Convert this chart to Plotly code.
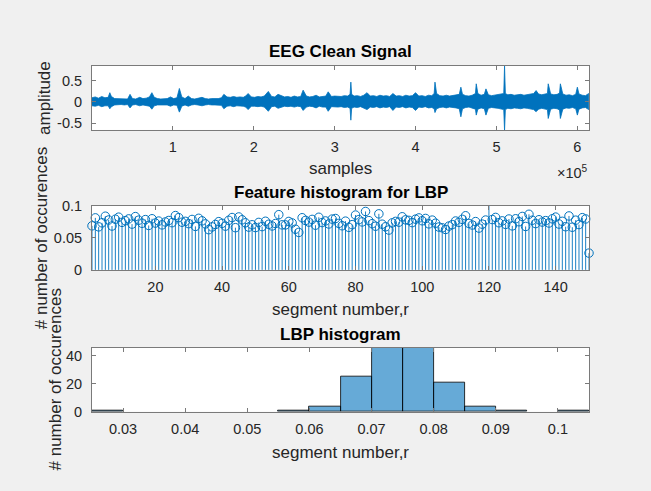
import numpy as np
import plotly.graph_objects as go

# ---------------- data ----------------
# EEG clean signal envelope (positions in thousands of samples, upper / lower extent)
eeg_k = [0, 4, 8, 12, 16, 20, 22, 24, 28, 32, 36, 40, 44, 47, 50, 54, 59, 63, 67, 71, 74, 77, 81, 85, 89, 93, 97,
         101, 105, 108, 111, 115, 119, 123, 127, 131, 136, 140, 144, 148, 152, 156, 160,
         163, 167, 171, 175, 179, 183, 187, 190, 193, 197, 201, 205, 209, 213, 218, 222, 226, 230, 234, 238, 242,
         246, 250, 254, 258, 261, 265, 269, 273, 277, 281, 285, 289, 292, 296, 300,
         304, 308, 312, 316, 319, 320, 321, 324, 328, 332, 336, 340, 344, 348, 352, 356, 360, 364, 368, 372, 376,
         380, 384, 388, 392, 396, 400, 404, 408, 412, 416, 420, 423, 424, 426, 430, 434, 438, 442, 446, 450, 454,
         456, 458, 462, 466, 470, 474, 475, 477, 481, 485, 487, 490, 494, 498, 502, 506, 509, 510, 511, 514, 518,
         522, 526, 530, 534, 538, 542, 546, 549, 552, 556, 560, 563, 564, 567, 571, 575, 578, 579, 582, 586, 590,
         594, 598, 600, 602, 606, 610, 614]
eeg_hi = [.10, .12, .09, .13, .10, .11, .22, .13, .08, .08, .07, .08, .07, .18, .08, .07, .11, .08, .09, .12,
          .22, .11, .08, .07, .08, .08, .12, .08, .10, .32, .12, .08, .14, .08, .07, .08, .11, .08, .07, .08,
          .08, .08, .10,
          .18, .12, .11, .13, .11, .12, .11, .14, .20, .12, .11, .13, .12, .14, .25, .13, .12, .18, .14, .12,
          .13, .11, .14, .12, .13, .28, .14, .12, .13, .16, .12, .13, .14, .24, .13, .14,
          .14, .13, .15, .14, .18, .47, .18, .14, .15, .13, .16, .22, .14, .15, .13, .16, .14, .15, .13, .20,
          .14, .15, .13, .16, .14, .15, .22, .14, .15, .13, .16, .15, .20, .47, .20, .15, .14, .16, .14, .15,
          .16, .18, .35, .18, .15, .14, .16, .20, .43, .20, .16, .18, .31, .17, .15, .16, .17, .18, .20, .85,
          .20, .17, .18, .16, .17, .18, .16, .17, .18, .20, .27, .19, .17, .18, .20, .43, .19, .17, .18, .21,
          .43, .19, .16, .17, .15, .18, .35, .19, .16, .15, .20]
eeg_lo = [-.09, -.10, -.08, -.11, -.09, -.09, -.16, -.11, -.07, -.07, -.06, -.07, -.06, -.14, -.07, -.06, -.09,
          -.07, -.08, -.10, -.17, -.09, -.07, -.06, -.07, -.07, -.10, -.07, -.08, -.24, -.10, -.07, -.10, -.07,
          -.06, -.07, -.09, -.07, -.06, -.07, -.07, -.07, -.08,
          -.16, -.10, -.09, -.11, -.09, -.10, -.10, -.12, -.18, -.10, -.10, -.11, -.10, -.12, -.22, -.11, -.10,
          -.15, -.12, -.10, -.11, -.10, -.12, -.10, -.11, -.20, -.12, -.10, -.11, -.14, -.10, -.12, -.12, -.22,
          -.11, -.12,
          -.12, -.11, -.13, -.12, -.15, -.43, -.15, -.12, -.13, -.11, -.14, -.18, -.12, -.13, -.11, -.14, -.12,
          -.13, -.11, -.20, -.12, -.13, -.11, -.14, -.12, -.13, -.20, -.12, -.13, -.11, -.14, -.13, -.16, -.25,
          -.16, -.13, -.12, -.14, -.12, -.13, -.14, -.16, -.35, -.16, -.13, -.12, -.14, -.17, -.31, -.17, -.14,
          -.16, -.31, -.15, -.13, -.14, -.15, -.16, -.18, -.68, -.18, -.15, -.16, -.14, -.15, -.16, -.14, -.15,
          -.16, -.18, -.23, -.17, -.15, -.16, -.18, -.39, -.17, -.15, -.16, -.19, -.39, -.17, -.14, -.15, -.13,
          -.16, -.31, -.17, -.14, -.13, -.18]

# LBP feature value per segment r = 1..150
segment_r = list(range(1, 151))
lbp_feature = [
    0.0688, 0.0812, 0.0672, 0.0735, 0.0838, 0.0779, 0.0685, 0.0791, 0.0823, 0.0742,
    0.0768, 0.0796, 0.0715, 0.0832, 0.0776, 0.0728, 0.0785, 0.0694, 0.0798, 0.0731,
    0.0762, 0.0703, 0.0748, 0.0771, 0.0737, 0.0848, 0.0816, 0.0744, 0.0758, 0.0722,
    0.0787, 0.0679, 0.0805, 0.0766, 0.0718, 0.0628, 0.0671, 0.0709, 0.0753, 0.0727,
    0.0683, 0.0774, 0.0817, 0.0659, 0.0826, 0.0782, 0.0735, 0.0668, 0.0704, 0.0661,
    0.0741, 0.0676, 0.0759, 0.0712, 0.0686, 0.0724, 0.0862, 0.0703, 0.0702, 0.0756,
    0.0733, 0.0635, 0.0585, 0.0814, 0.0772, 0.0746, 0.0788, 0.0698, 0.0821, 0.0739,
    0.0764, 0.0717, 0.0793, 0.0802, 0.0726, 0.0689, 0.0761, 0.0664, 0.0706, 0.0856,
    0.0784, 0.0749, 0.0912, 0.0769, 0.0721, 0.0682, 0.0875, 0.0713, 0.0673, 0.0622,
    0.0734, 0.0757, 0.0745, 0.0829, 0.0781, 0.0773, 0.0738, 0.0792, 0.0811, 0.0767,
    0.0803, 0.0719, 0.0777, 0.0729, 0.0669, 0.0657, 0.0631, 0.0684, 0.0707, 0.0763,
    0.0743, 0.0789, 0.0845, 0.0725, 0.0701, 0.0754, 0.0653, 0.0714, 0.0778, 0.1003,
    0.0786, 0.0819, 0.0736, 0.0765, 0.0711, 0.0794, 0.0687, 0.0798, 0.0752, 0.0834,
    0.0678, 0.0868, 0.0775, 0.0723, 0.0783, 0.0747, 0.0769, 0.0732, 0.0797, 0.0824,
    0.0716, 0.0758, 0.0674, 0.0842, 0.0666, 0.0776, 0.0708, 0.0815, 0.0795, 0.0262]

sig_ticks = [1e5, 2e5, 3e5, 4e5, 5e5, 6e5]
sig_ticktext = ["1", "2", "3", "4", "5", "6"]
hist_ticks = [0.03, 0.04, 0.05, 0.06, 0.07, 0.08, 0.09, 0.1]
hist_ticktext = ["0.03", "0.04", "0.05", "0.06", "0.07", "0.08", "0.09", "0.1"]

# ---------------- figure ----------------
BLUE = "#0072BD"
FONT = "Liberation Sans, Arial, sans-serif"
TXT = "#262626"
AX = "#7a7a7a"

k = np.array(eeg_k, dtype=float) * 1000.0
sig_x = np.concatenate([k, k[::-1]])
sig_y = np.concatenate([np.array(eeg_hi), np.array(eeg_lo)[::-1]])

fig = go.Figure()
fig.add_trace(go.Scatter(x=sig_x, y=sig_y, mode="lines", fill="toself", fillcolor=BLUE,
                         line=dict(color=BLUE, width=0.8), xaxis="x", yaxis="y",
                         showlegend=False, hoverinfo="skip"))

fig.add_trace(go.Scatter(x=segment_r, y=lbp_feature, mode="markers",
                         marker=dict(symbol="circle-open", size=8.5, color=BLUE, line=dict(width=1, color=BLUE)),
                         error_y=dict(type="data", symmetric=False, array=[0] * len(lbp_feature),
                                      arrayminus=lbp_feature, color=BLUE, thickness=0.9, width=0),
                         xaxis="x2", yaxis="y2", cliponaxis=False, showlegend=False))

fig.add_trace(go.Histogram(x=lbp_feature, xbins=dict(start=0.025, end=0.105, size=0.005),
                           autobinx=False,
                           marker=dict(color="rgba(0,114,189,0.6)", line=dict(color="#000000", width=0.8)),
                           xaxis="x3", yaxis="y3", showlegend=False))

xdom = [92 / 651, 589 / 651]

def ydom(top, bottom):
    return [1 - bottom / 491, 1 - top / 491]

common = dict(showline=True, linecolor=AX, linewidth=1, mirror="ticks", ticks="inside", ticklen=4,
              tickcolor=AX, tickwidth=1, showgrid=False, zeroline=False,
              tickfont=dict(family=FONT, size=14.5, color=TXT))

fig.update_layout(
    width=651, height=491, autosize=False,
    margin=dict(l=0, r=0, t=0, b=0),
    paper_bgcolor="#F0F0F0", plot_bgcolor="white",
    bargap=0,
    xaxis=dict(domain=xdom, range=[0, 614400], tickmode="array", tickvals=sig_ticks, ticktext=sig_ticktext,
               anchor="y", ticklabelstandoff=4, **common),
    yaxis=dict(domain=ydom(60, 126), range=[-0.66, 0.85], tickmode="array", tickvals=[-0.5, 0, 0.5],
               ticktext=["-0.5", "0", "0.5"], anchor="x", ticklabelstandoff=6, **common),
    xaxis2=dict(domain=xdom, range=[1, 150], tickmode="array", tickvals=[20, 40, 60, 80, 100, 120, 140],
                anchor="y2", ticklabelstandoff=4, **common),
    yaxis2=dict(domain=ydom(204.5, 270.7), range=[0, 0.1], tickmode="array", tickvals=[0, 0.05, 0.1],
                ticktext=["0", "0.05", "0.1"], anchor="x2", ticklabelstandoff=6, **common),
    xaxis3=dict(domain=xdom, range=[0.025, 0.105], tickmode="array", tickvals=hist_ticks,
                ticktext=hist_ticktext, anchor="y3", ticklabelstandoff=4, **common),
    yaxis3=dict(domain=ydom(351, 417.3), range=[0, 46], tickmode="array", tickvals=[0, 20, 40],
                ticktext=["0", "20", "40"], anchor="x3", ticklabelstandoff=6, **common),
)

def ann(text, x, y, size=17, bold=False, angle=0, xanchor="center"):
    fig.add_annotation(text=f"<b>{text}</b>" if bold else text, x=x / 651, y=1 - y / 491,
                       xref="paper", yref="paper", showarrow=False, textangle=angle,
                       xanchor=xanchor, yanchor="middle",
                       font=dict(family=FONT, size=size, color=TXT if not bold else "#000000"))

ann("EEG Clean Signal", 340.5, 45, bold=True)
ann("samples", 340.5, 166)
ann("×10<sup>5</sup>", 590, 170, size=14.5, xanchor="right")
ann("amplitude", 45, 93, angle=-90)

ann("Feature histogram for LBP", 340.5, 191, bold=True)
ann("segment number,r", 340.5, 312)
ann("# number of occurences", 41, 238, angle=-90)

ann("LBP histogram", 340.5, 337, bold=True)
ann("segment number,r", 340.5, 459)
ann("# number of occurences", 55, 384, angle=-90)

fig.write_html("out.html")
